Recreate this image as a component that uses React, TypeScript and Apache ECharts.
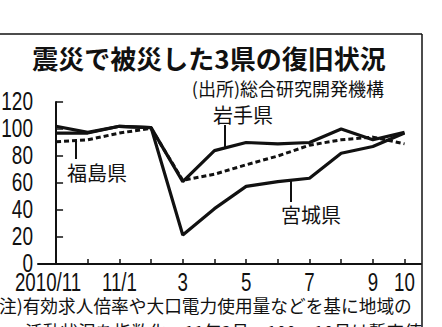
import React, { useEffect, useRef } from "react";
import * as echarts from "echarts";

const months = ["2010/11", "12", "11/1", "2", "3", "4", "5", "6", "7", "8", "9", "10"];
const monthTicks = [0, 1, 2, 3, 4, 5, 6, 7, 8, 9, 10, 11];
const labelTicks = [0, 2, 4, 6, 8, 10, 11];
const iwate = [97, 97, 102, 101, 61, 84, 90, 89, 90, 100, 92, 97.5];
const miyagi = [102, 97.5, 102, 101, 21.5, 41, 57.5, 61, 63.5, 82, 87, 97];
const fukushima = [90.5, 92, 97, 100.5, 62, 66.5, 73.5, 80, 88, 92, 94, 89];
const yTicks = [0, 20, 40, 60, 80, 100, 120];

const title = "震災で被災した3県の復旧状況";
const source = "(出所)総合研究開発機構";
const note1 = "(注)有効求人倍率や大口電力使用量などを基に地域の";
const note2 = "活動状況を指数化。11年2月＝100。10月は暫定値";

const INK = "#111";
const CJK = '"Noto Sans CJK JP", "Noto Sans CJK SC", sans-serif';
const NUM = '"Liberation Sans", Arial, sans-serif';

export default function App() {
  const ref = useRef<HTMLDivElement>(null);
  useEffect(() => {
    if (!ref.current) return;
    const chart = echarts.init(ref.current, null, { renderer: "svg" });
    const toPairs = (arr: number[]) => arr.map((v, i) => [i, v]);
    const xMin = -0.57;
    chart.setOption({
      animation: false,
      backgroundColor: "#fff",
      grid: { left: 38, right: 21, top: 102, bottom: 63, containLabel: false },
      xAxis: {
        type: "value",
        min: xMin,
        max: 11.52,
        splitLine: { show: false },
        axisLine: { show: true, lineStyle: { color: INK, width: 2 } },
        axisTick: {
          show: true,
          inside: true,
          length: 5,
          customValues: monthTicks,
          lineStyle: { color: INK, width: 1.5 },
        },
        axisLabel: { show: false },
      },
      yAxis: {
        type: "value",
        min: yTicks[0],
        max: yTicks[yTicks.length - 1],
        interval: yTicks[1] - yTicks[0],
        splitLine: { show: false },
        axisLine: { show: true, lineStyle: { color: INK, width: 2 } },
        axisTick: { show: true, inside: true, length: 7, lineStyle: { color: INK, width: 1.5 } },
        axisLabel: { show: false },
      },
      series: [
        { name: "岩手県", type: "line", data: toPairs(iwate), showSymbol: false, lineStyle: { color: INK, width: 3.2 } },
        { name: "宮城県", type: "line", data: toPairs(miyagi), showSymbol: false, lineStyle: { color: INK, width: 3.2 } },
        {
          name: "福島県",
          type: "line",
          data: toPairs(fukushima),
          showSymbol: false,
          lineStyle: { color: INK, width: 3, type: [5, 3] },
        },
      ],
    });

    const px = (x: number, y: number) => chart.convertToPixel({ gridIndex: 0 }, [x, y]) as number[];
    const tickLabels: any[] = [];
    yTicks.forEach((v) => {
      const p = px(xMin, v);
      tickLabels.push({
        type: "text",
        x: p[0] - 5,
        y: p[1],
        scaleX: 0.76,
        style: { text: String(v), font: "25px " + NUM, fill: INK, align: "right", verticalAlign: "middle" },
      });
    });
    labelTicks.forEach((i) => {
      const p = px(i, 0);
      tickLabels.push({
        type: "text",
        x: p[0] + (i === 0 ? -8 : 0),
        y: p[1] + 5,
        scaleX: 0.72,
        style: { text: months[i], font: "26px " + NUM, fill: INK, align: "center", verticalAlign: "top" },
      });
    });

    chart.setOption({
      graphic: [
        { type: "line", shape: { x1: 0, y1: 34, x2: 422, y2: 34 }, style: { stroke: INK, lineWidth: 1.5 } },
        { type: "line", shape: { x1: 422, y1: 34, x2: 422, y2: 327 }, style: { stroke: INK, lineWidth: 1.5 } },
        {
          type: "text",
          x: 209,
          y: 57,
          style: { text: title, font: "bold 26px " + CJK, fill: INK, align: "center", verticalAlign: "middle" },
        },
        {
          type: "text",
          x: 384,
          y: 88,
          style: { text: source, font: "18px " + CJK, fill: INK, align: "right", verticalAlign: "middle" },
        },
        {
          type: "text",
          x: 243,
          y: 114,
          style: { text: "岩手県", font: "20px " + CJK, fill: INK, align: "center", verticalAlign: "middle" },
        },
        { type: "line", shape: { x1: 225, y1: 125, x2: 225, y2: 148 }, style: { stroke: INK, lineWidth: 2 } },
        {
          type: "text",
          x: 97,
          y: 172,
          style: { text: "福島県", font: "20px " + CJK, fill: INK, align: "center", verticalAlign: "middle" },
        },
        { type: "line", shape: { x1: 76, y1: 139, x2: 76, y2: 159 }, style: { stroke: INK, lineWidth: 2 } },
        {
          type: "text",
          x: 311,
          y: 214,
          style: { text: "宮城県", font: "20px " + CJK, fill: INK, align: "center", verticalAlign: "middle" },
        },
        { type: "line", shape: { x1: 291, y1: 181, x2: 291, y2: 202 }, style: { stroke: INK, lineWidth: 2 } },
        {
          type: "text",
          x: -7,
          y: 305,
          style: { text: note1, font: "17.7px " + CJK, fill: INK, align: "left", verticalAlign: "middle" },
        },
        {
          type: "text",
          x: 25,
          y: 331,
          style: { text: note2, font: "17.7px " + CJK, fill: INK, align: "left", verticalAlign: "middle" },
        },
        ...tickLabels,
      ],
    });
    return () => chart.dispose();
  }, []);
  return (
    <div
      ref={ref}
      style={{ position: "fixed", left: 0, top: 0, width: 442, height: 327, background: "#fff" }}
    />
  );
}
